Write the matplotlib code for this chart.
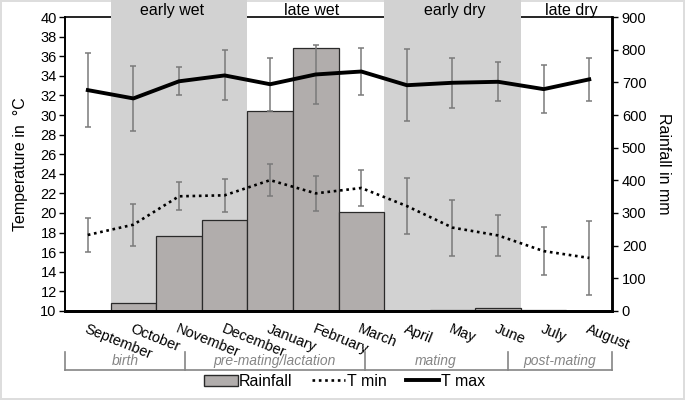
import numpy as np
import matplotlib.pyplot as plt
from matplotlib.patches import Patch

plt.rcParams['font.family'] = ['Liberation Sans', 'DejaVu Sans']

months = ["September", "October", "November", "December", "January", "February",
          "March", "April", "May", "June", "July", "August"]
rain = [0, 25, 230, 278, 612, 805, 302, 0, 3, 10, 3, 0]
tmax = [32.55, 31.7, 33.45, 34.05, 33.15, 34.15, 34.45, 33.05, 33.3, 33.4, 32.65, 33.65]
tmax_sd = [3.8, 3.3, 1.45, 2.55, 2.7, 3.05, 2.45, 3.7, 2.55, 2.0, 2.45, 2.2]
tmin = [17.75, 18.8, 21.7, 21.8, 23.35, 22.0, 22.55, 20.7, 18.5, 17.7, 16.1, 15.4]
tmin_sd = [1.7, 2.15, 1.45, 1.7, 1.6, 1.8, 1.85, 2.85, 2.85, 2.1, 2.45, 3.75]

# seasons: label, centre of label, shaded span
season_names = ["early wet", "late wet", "early dry", "late dry"]
season_label_x = [1.85, 4.9, 8.05, 10.6]
shaded_spans = [(0.5, 3.5), (6.5, 9.5)]

# reproductive phases below the axis (category coordinates)
phase_names = ["birth", "pre-mating/lactation", "mating", "post-mating"]
phase_edges = [-0.5, 2.14, 6.07, 9.21, 11.5]

x = np.arange(len(months))

fig = plt.figure(figsize=(6.85, 4.0), dpi=100)
ax = fig.add_axes([0.0949, 0.223, 0.7986, 0.734])
ax2 = ax.twinx()
ax.set_zorder(ax2.get_zorder() + 1)
ax.patch.set_visible(False)

# shaded seasons, drawn above the top spine
for a, b in shaded_spans:
    ax2.axvspan(a, b, ymin=0, ymax=1.1, color='#d2d2d2', lw=0, zorder=0.5, clip_on=False)
ax2.spines['top'].set_zorder(0.2)
ax.spines['top'].set_visible(False)

ax2.bar(x, rain, width=1.0, color='#b1adac', edgecolor='#2a2a2a', linewidth=0.9, zorder=2)
ax2.set_ylim(0, 900)
ax2.set_yticks(range(0, 901, 100))

ax.errorbar(x, tmax, yerr=tmax_sd, fmt='none', ecolor='#7a7a7a', elinewidth=1.1,
            capsize=2.5, capthick=1.1, zorder=3)
ax.errorbar(x, tmin, yerr=tmin_sd, fmt='none', ecolor='#7a7a7a', elinewidth=1.1,
            capsize=2.5, capthick=1.1, zorder=3)
l_min, = ax.plot(x, tmin, color='black', lw=1.9, linestyle=(0, (1, 1.4)), zorder=4, label='T min')
l_max, = ax.plot(x, tmax, color='black', lw=2.8, zorder=4, label='T max')

ax.set_xlim(-0.5, 11.5)
ax.set_ylim(10, 40)
ax.set_yticks(range(10, 41, 2))
ax.set_xticks(x)
ax.set_xticklabels(months, rotation=-22, ha='left', va='top', rotation_mode='anchor', fontsize=10.5)
ax.tick_params(axis='x', length=0, pad=8)
ax.tick_params(axis='y', labelsize=10.5, length=4, width=1, direction='out', pad=2)
ax2.tick_params(axis='y', labelsize=10.5, length=4, width=1, direction='out', pad=3)

for a_ in (ax, ax2):
    a_.spines['bottom'].set_linewidth(2)
    a_.spines['left'].set_linewidth(1.2)
    a_.spines['right'].set_linewidth(1.8)
ax2.spines['top'].set_linewidth(1.2)

ax.set_ylabel("Temperature in  °C", fontsize=11.5, labelpad=9)
ax2.set_ylabel("Rainfall in mm", fontsize=11.5, rotation=270, labelpad=18)

# season headers
for name, cx in zip(season_names, season_label_x):
    ax.text(cx, 0.997, name, transform=ax.get_xaxis_transform(), ha='center', va='bottom',
            fontsize=11.5, clip_on=False)

# reproductive phase brackets
tr = ax.get_xaxis_transform()
gray = '#858585'
ax.plot([phase_edges[0], phase_edges[-1]], [-0.202, -0.202], transform=tr, color=gray,
        lw=1.2, clip_on=False)
for e in phase_edges:
    ax.plot([e, e], [-0.202, -0.14], transform=tr, color=gray, lw=1.2, clip_on=False)
for name, a, b in zip(phase_names, phase_edges[:-1], phase_edges[1:]):
    ax.text((a + b) / 2, -0.172, name, transform=tr, ha='center', va='center',
            fontsize=10, style='italic', color=gray, clip_on=False)

ax.legend(handles=[Patch(facecolor='#b1adac', edgecolor='#2a2a2a', label='Rainfall'), l_min, l_max],
          loc='center', bbox_to_anchor=(0.503, 0.047), bbox_transform=fig.transFigure,
          ncol=3, frameon=False, fontsize=11.5, handlelength=2.1, handletextpad=0.1,
          columnspacing=1.2, borderpad=0)

fig.patch.set_edgecolor('#dddddd')
fig.patch.set_linewidth(1.5)
fig.savefig('out.png', dpi=100)
